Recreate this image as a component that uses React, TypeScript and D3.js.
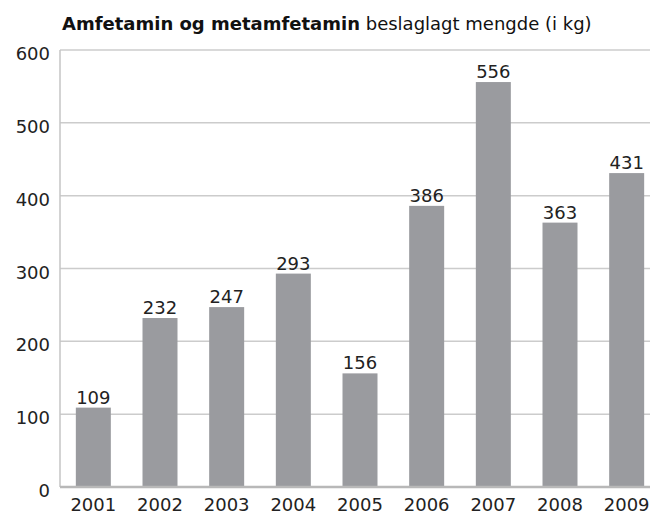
import React, { useRef, useEffect } from 'react';
import * as d3 from 'd3';

const years = ['2001', '2002', '2003', '2004', '2005', '2006', '2007', '2008', '2009'];
const seizedKg = [109, 232, 247, 293, 156, 386, 556, 363, 431];
const yTicks = [0, 100, 200, 300, 400, 500, 600];

const W = 650;
const H = 516;
const FONT = "'DejaVu Sans', sans-serif";

export default function App() {
  const svgRef = useRef<SVGSVGElement>(null);

  useEffect(() => {
    const svg = d3.select(svgRef.current);
    svg.selectAll('*').remove();

    const left = 60;
    const right = 650;
    const top = 50;
    const bottom = 487;

    const x = d3
      .scaleBand()
      .domain(years)
      .range([left, 660])
      .paddingInner(0.475)
      .paddingOuter(0.2375);

    const y = d3.scaleLinear().domain([0, 600]).range([bottom, top]);

    // grid
    svg
      .append('g')
      .selectAll('line')
      .data(yTicks.filter((t) => t > 0))
      .join('line')
      .attr('x1', left)
      .attr('x2', right)
      .attr('y1', (d) => y(d))
      .attr('y2', (d) => y(d))
      .attr('stroke', '#cccccc')
      .attr('stroke-width', 1.5);

    // y axis line
    svg
      .append('line')
      .attr('x1', left)
      .attr('x2', left)
      .attr('y1', top)
      .attr('y2', bottom)
      .attr('stroke', '#c4c4c4')
      .attr('stroke-width', 1.5);

    // bars
    svg
      .append('g')
      .selectAll('rect')
      .data(seizedKg)
      .join('rect')
      .attr('x', (d, i) => x(years[i]) as number)
      .attr('width', x.bandwidth())
      .attr('y', (d) => y(d))
      .attr('height', (d) => bottom - y(d))
      .attr('fill', '#9a9b9f');

    // baseline
    svg
      .append('line')
      .attr('x1', left)
      .attr('x2', right)
      .attr('y1', bottom)
      .attr('y2', bottom)
      .attr('stroke', '#b8b8b8')
      .attr('stroke-width', 2.5);

    // value labels
    svg
      .append('g')
      .selectAll('text')
      .data(seizedKg)
      .join('text')
      .attr('x', (d, i) => (x(years[i]) as number) + x.bandwidth() / 2)
      .attr('y', (d) => y(d) - 4)
      .attr('text-anchor', 'middle')
      .attr('font-family', FONT)
      .attr('font-size', 18)
      .attr('fill', '#222')
      .text((d) => d);

    // y tick labels
    svg
      .append('g')
      .selectAll('text')
      .data(yTicks)
      .join('text')
      .attr('x', 50)
      .attr('y', (d) => y(d) + 10)
      .attr('text-anchor', 'end')
      .attr('font-family', FONT)
      .attr('font-size', 18)
      .attr('fill', '#222')
      .text((d) => d);

    // x tick labels
    svg
      .append('g')
      .selectAll('text')
      .data(years)
      .join('text')
      .attr('x', (d) => (x(d) as number) + x.bandwidth() / 2)
      .attr('y', 511)
      .attr('text-anchor', 'middle')
      .attr('font-family', FONT)
      .attr('font-size', 18)
      .attr('fill', '#222')
      .text((d) => d);

    // title
    const title = svg
      .append('text')
      .attr('x', 62)
      .attr('y', 30)
      .attr('font-family', FONT)
      .attr('font-size', 18)
      .attr('fill', '#111');
    title.append('tspan').attr('font-weight', 'bold').text('Amfetamin og metamfetamin');
    title.append('tspan').text(' beslaglagt mengde (i kg)');
  }, []);

  return (
    <svg
      ref={svgRef}
      width={W}
      height={H}
      style={{ position: 'absolute', left: 0, top: 0, background: '#fff' }}
    ></svg>
  );
}
